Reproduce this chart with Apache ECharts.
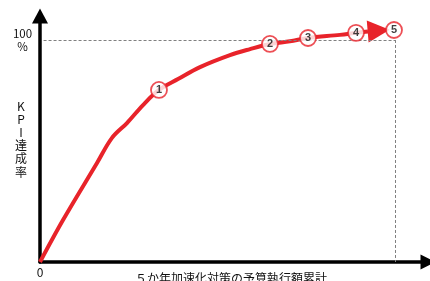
<!DOCTYPE html>
<html><head><meta charset="utf-8">
<script src="https://cdn.jsdelivr.net/npm/echarts@6/dist/echarts.min.js"></script>
<style>html,body{margin:0;padding:0;background:#fff}#c{width:430px;height:281px}</style>
</head><body><div id="c"></div>
<script>
// Curve (x: budget executed, 0..5 ; y: KPI achievement %)
const curveX = [0, 0.324, 0.803, 1.014, 1.225, 1.451, 1.676, 1.944, 2.254, 2.676, 2.958, 3.239, 3.52, 3.775, 4.225, 4.451, 4.62];
const curveY = [0, 18.9, 44.6, 55.9, 62.6, 70.7, 77.5, 82.4, 87.8, 93.2, 95.9, 98.2, 99.4, 100.9, 102.3, 103.2, 103.8];
// arrow head segment
const arrowFrom = [4.62, 103.8];
const arrowTo = [4.77, 104.2];
// numbered markers
const markerX = [1.676, 3.239, 3.775, 4.451, 4.986];
const markerY = [77.5, 98.2, 100.9, 103.2, 104.5];
const markerLabels = ['1', '2', '3', '4', '5'];
// reference lines
const fullX = 5;
const fullY = 100;
const yTickLabels = {100: '100\n%'};
const xTickLabels = {0: '0'};
const xName = '５か年加速化対策の予算執行額累計';
const yName = 'K\nP\nI\n達\n成\n率';

const RED = '#e8232a';
const FONT = '"Noto Sans CJK JP", "Noto Sans", sans-serif';

const chart = echarts.init(document.getElementById('c'));
chart.setOption({
  animation: false,
  grid: {left: 40, right: 2, top: 16, bottom: 19, containLabel: false, outerBoundsMode: 'none'},
  xAxis: {
    type: 'value', min: 0, max: 5.465, interval: 1,
    splitLine: {show: false}, axisTick: {show: false},
    axisLine: {lineStyle: {color: '#000', width: 3.5}, symbol: ['none', 'triangle'], symbolSize: [15, 15]},
    axisLabel: {margin: 4, color: '#111', fontSize: 12, fontFamily: FONT,
      formatter: v => xTickLabels[v] !== undefined ? xTickLabels[v] : ''},
    name: xName, nameLocation: 'middle', nameGap: 10, nameMoveOverlap: false,
    nameTextStyle: {color: '#111', fontSize: 12, fontFamily: FONT, verticalAlign: 'top', padding: [0, 6, 0, 0]}
  },
  yAxis: {
    type: 'value', min: 0, max: 110.8, interval: 100,
    splitLine: {show: false}, axisTick: {show: false},
    axisLine: {lineStyle: {color: '#000', width: 3.5}, symbol: ['none', 'triangle'], symbolSize: [16, 15]},
    axisLabel: {margin: 17.5, align: 'center', color: '#111', fontSize: 11.5, lineHeight: 13, fontFamily: FONT,
      padding: [6, 0, 0, 0],
      formatter: v => yTickLabels[v] !== undefined ? yTickLabels[v] : ''},
    name: yName, nameLocation: 'middle', nameGap: 19, nameRotate: 0, nameMoveOverlap: false,
    nameTextStyle: {color: '#111', fontSize: 12, lineHeight: 13.2, fontFamily: FONT, align: 'center', verticalAlign: 'middle', padding: [3, 0, 0, 0]}
  },
  series: [
    {
      type: 'line', smooth: 0.35, showSymbol: false, z: 3,
      data: curveX.map((x, i) => [x, curveY[i]]),
      lineStyle: {color: RED, width: 4},
      markLine: {
        silent: true, animation: false,
        data: [[
          {coord: arrowFrom, symbol: 'none'},
          {coord: arrowTo, symbol: 'triangle', symbolSize: [22, 22]}
        ]],
        lineStyle: {color: RED, width: 4, type: 'solid'},
        itemStyle: {color: RED},
        label: {show: false}
      }
    },
    {
      type: 'scatter', z: 5,
      data: markerX.map((x, i) => [x, markerY[i], markerLabels[i]]),
      symbol: 'circle', symbolSize: 16,
      itemStyle: {color: '#fff', borderColor: RED, borderWidth: 1.8},
      label: {show: true, position: 'inside', color: '#111', fontSize: 11, fontWeight: 'bold', fontFamily: 'Arial, "Liberation Sans", sans-serif',
        formatter: p => p.data[2]},
      markLine: {
        silent: true, animation: false, symbol: 'none',
        data: [
          [{coord: [0.05, fullY]}, {coord: [fullX, fullY]}],
          [{coord: [fullX, fullY]}, {coord: [fullX, 0]}]
        ],
        lineStyle: {color: '#808080', width: 1, type: [3, 2]},
        label: {show: false}
      }
    }
  ]
});
</script></body></html>
